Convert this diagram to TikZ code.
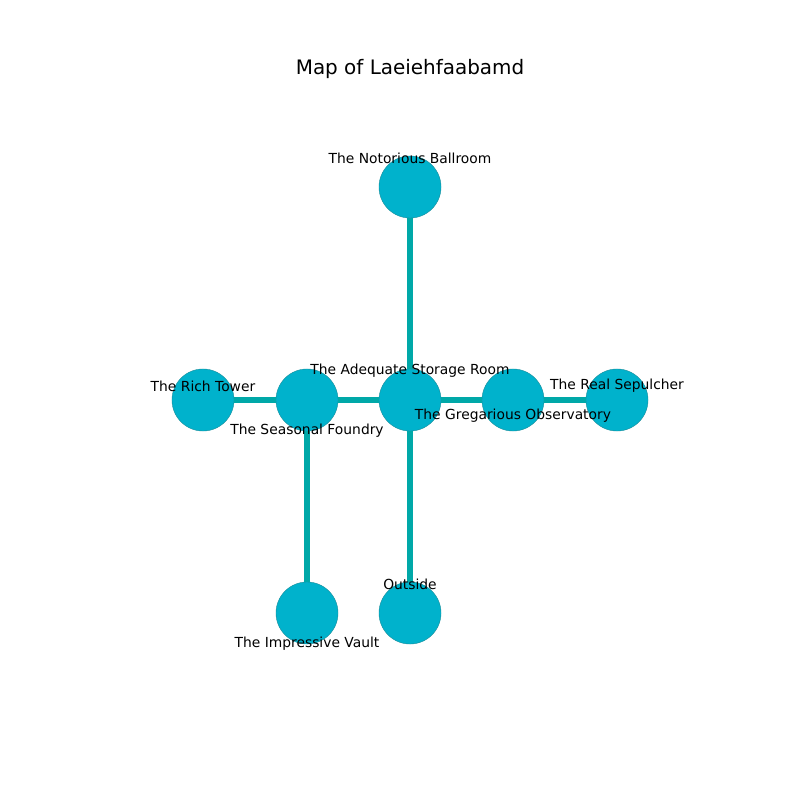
\documentclass[tikz,border=0pt]{standalone}
\usepackage{fontspec}
\setmainfont{DejaVu Sans}
\definecolor{roomfill}{HTML}{00B2CC}
\definecolor{roomline}{HTML}{1A8C99}
\definecolor{passage}{HTML}{00A8A8}
\tikzset{
  room/.style={circle, fill=roomfill, draw=roomline, line width=0.3pt, minimum size=0.62in, inner sep=0pt},
  passage/.style={draw=passage, line width=4pt},
  roomname/.style={font=\fontsize{10}{12}\selectfont, inner sep=0pt}
}
\begin{document}
\begin{tikzpicture}[x=0.01in,y=-0.01in]

            \useasboundingbox (0,0) rectangle (800,800);

            \node [font=\fontsize{14.4}{17}\selectfont] (title) at (410,69) {Map of Laeiehfaabamd};

            % rooms
            \node [room] (ballroom) at (410,187) {};
            \node [room] (storage) at (410,400) {};
            \node [room] (tower) at (203,400) {};
            \node [room] (foundry) at (307,400) {};
            \node [room] (observatory) at (513,400) {};
            \node [room] (sepulcher) at (617,400) {};
            \node [room] (vault) at (307,613) {};
            \node [room] (outside) at (410,613) {};

            % passages
            \draw[passage] (ballroom) -- (storage);
            \draw[passage] (tower) -- (foundry);
            \draw[passage] (foundry) -- (storage);
            \draw[passage] (storage) -- (observatory);
            \draw[passage] (observatory) -- (sepulcher);
            \draw[passage] (foundry) -- (vault);
            \draw[passage] (storage) -- (outside);

            % room labels
            \node [roomname] (lballroom) at (410,158) {The Notorious Ballroom};
            \node [roomname] (lstorage) at (410,371) {The Adequate Storage Room};
            \node [roomname] (ltower) at (203,386) {The Rich Tower};
            \node [roomname] (lfoundry) at (307,431) {The Seasonal Foundry};
            \node [roomname] (lobservatory) at (513,416) {The Gregarious Observatory};
            \node [roomname] (lsepulcher) at (617,386) {The Real Sepulcher};
            \node [roomname] (lvault) at (307,644) {The Impressive Vault};
            \node [roomname] (loutside) at (410,584) {Outside};

        \end{tikzpicture}
\end{document}
